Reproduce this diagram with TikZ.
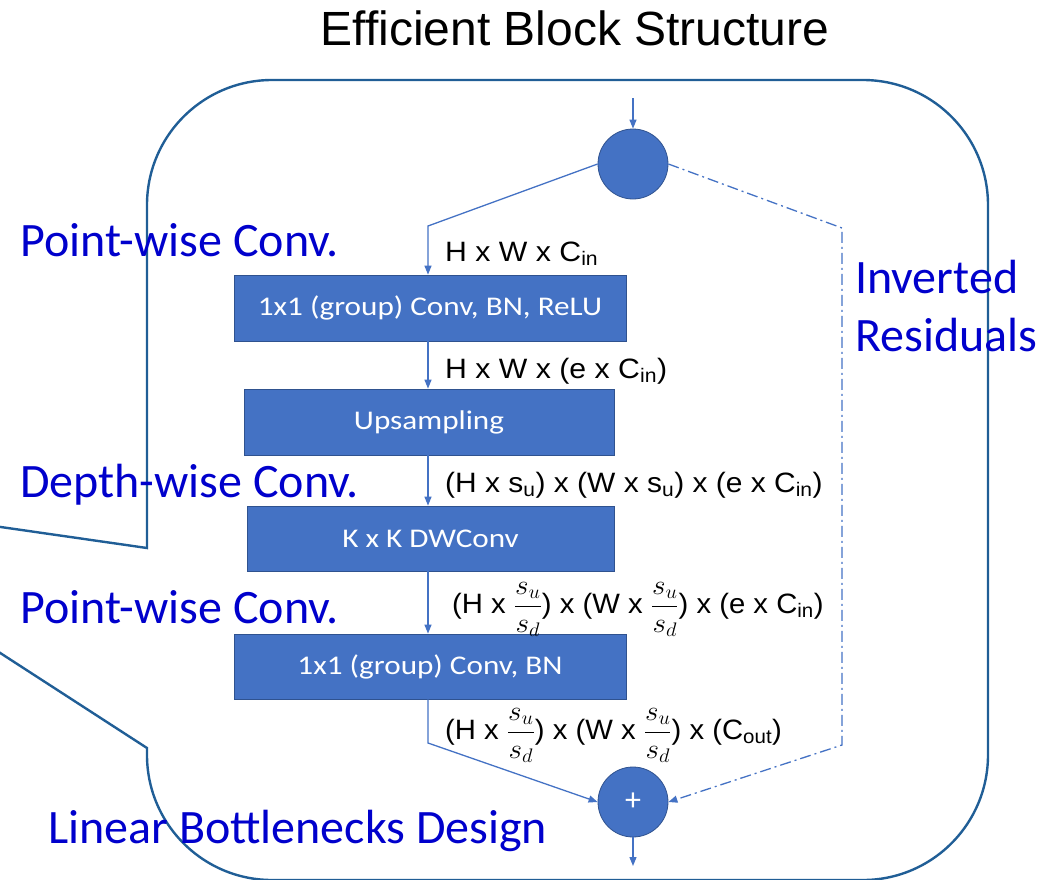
\documentclass[tikz,border=0pt]{standalone}
\usepackage{fix-cm}
\usepackage{amsmath}
\usepackage{graphicx}
\usepackage{fontspec}
\newfontfamily\arialf{Liberation Sans}
\newfontfamily\calf{Carlito}
\usetikzlibrary{arrows.meta}

\definecolor{boxblue}{HTML}{4472C4}
\definecolor{boxedge}{HTML}{2F528F}
\definecolor{frameblue}{HTML}{205E96}
\definecolor{notecol}{HTML}{0000CC}

% slightly widened text, as in the block diagram
\newcommand{\wtext}[2]{\scalebox{#1}[1]{#2}}

\tikzset{
  blockbox/.style={draw=boxedge, line width=0.8pt, fill=boxblue, text=white,
    inner sep=0pt, font=\calf\fontsize{27}{31}\selectfont},
  joint/.style={circle, draw=boxedge, line width=0.8pt, fill=boxblue, text=white,
    minimum size=70pt, inner sep=0pt, font=\calf\fontsize{32}{36}\selectfont},
  flow/.style={draw=boxblue, line width=1.3pt,
    -{Triangle[length=9pt,width=7pt]}},
  skipline/.style={flow, dash pattern=on 11pt off 4pt on 2pt off 4pt},
  dimlabel/.style={anchor=base west, inner sep=0pt,
    font=\arialf\fontsize{28}{32}\selectfont},
  note/.style={anchor=base west, inner sep=0pt, text=notecol,
    font=\calf\fontsize{48}{55}\selectfont},
}

\begin{document}
\begin{tikzpicture}[x=1pt, y=-1pt]
\useasboundingbox (0,0) rectangle (1061,879);
\clip (0,0) rectangle (1061,879);

% title
\node[anchor=base, inner sep=0pt, font=\arialf\fontsize{48}{55}\selectfont]
  (title) at (575,45) {Efficient Block Structure};

% callout frame with its pointer running off to the left
\draw[frameblue, line width=2.4pt, line join=miter]
  (147,548) -- (147,205)
  .. controls (147,136) and (203,80) .. (272,80) -- (863,80)
  .. controls (932,80) and (988,136) .. (988,205) -- (988,755)
  .. controls (988,824) and (932,880) .. (863,880) -- (272,880)
  .. controls (203,880) and (147,824) .. (147,755) -- (147,748)
  -- (-250,491) -- cycle;

% blocks
\node[blockbox, minimum width=392pt, minimum height=66pt] (b1) at (430,308)
  {\wtext{1.155}{1x1 (group) Conv, BN, ReLU}};
\node[blockbox, minimum width=370pt, minimum height=66pt] (b2) at (429,422)
  {\wtext{1.155}{Upsampling}};
\node[blockbox, minimum width=367pt, minimum height=65pt] (b3) at (430.5,538.5)
  {\wtext{1.155}{K x K DWConv}};
\node[blockbox, minimum width=392pt, minimum height=65pt] (b4) at (430,666.5)
  {\wtext{1.155}{1x1 (group) Conv, BN}};

% split and sum
\node[joint] (c1) at (633,164) {};
\node[joint] (c2) at (633,802) {+};

% helper points of the connectors
\coordinate (in)  at (633,98);
\coordinate (out) at (633,866);
\coordinate (ax)  at (428,0);
\coordinate (k1)  at (428,226);
\coordinate (k4)  at (428,743);
\coordinate (k2)  at (842,228);
\coordinate (k3)  at (842,745);

% main path
\draw[flow] (in) -- (c1.north);
\draw[flow] (c1.west) -- (k1) -- (k1 |- b1.north);
\draw[flow] (b1.south -| ax) -- (b2.north -| ax);
\draw[flow] (b2.south -| ax) -- (b3.north -| ax);
\draw[flow] (b3.south -| ax) -- (b4.north -| ax);
\draw[flow] (b4.south -| ax) -- (k4) -- (c2.west);
\draw[flow] (c2.south) -- (out);

% shortcut
\draw[skipline] (c1.east) -- (k2) -- (k3) -- (c2.east);

% tensor shapes
\node[dimlabel] (d1) at (445,261)
  {\wtext{1.08}{H x W x C\textsubscript{in}}};
\node[dimlabel] (d2) at (445,378)
  {\wtext{1.08}{H x W x (e x C\textsubscript{in})}};
\node[dimlabel] (d3) at (445,492)
  {\wtext{1.07}{(H x s\textsubscript{u}) x (W x s\textsubscript{u}) x (e x C\textsubscript{in})}};
\node[dimlabel] (d4) at (452,613)
  {\wtext{1.045}{(H x $\dfrac{s_u}{s_d}$) x (W x $\dfrac{s_u}{s_d}$) x (e x C\textsubscript{in})}};
\node[dimlabel] (d5) at (445,739)
  {\wtext{1.045}{(H x $\dfrac{s_u}{s_d}$) x (W x $\dfrac{s_u}{s_d}$) x (C\textsubscript{out})}};

% annotations
\node[note] (n1) at (20,256) {Point-wise Conv.};
\node[note] (n2) at (20,497) {Depth-wise Conv.};
\node[note] (n3) at (20,623) {Point-wise Conv.};
\node[note] (n4) at (48,843) {Linear Bottlenecks Design};
\node[note] (n5) at (855,293) {Inverted};
\node[note] (n6) at (855,351) {Residuals};
\end{tikzpicture}
\end{document}
